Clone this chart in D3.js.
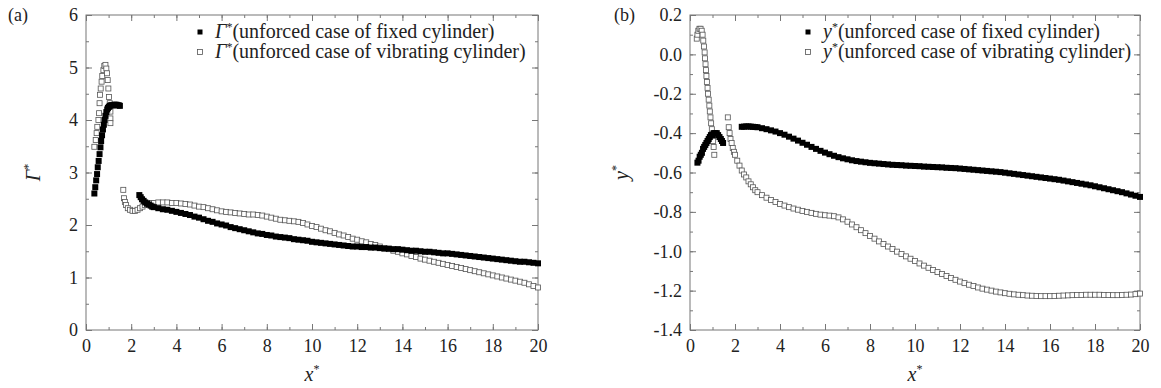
<!DOCTYPE html>
<html><head><meta charset="utf-8">
<script src="https://cdn.jsdelivr.net/npm/d3@7"></script>
<style>
body{margin:0;background:#fff;}
svg text{font-family:"Liberation Serif","DejaVu Serif","Times New Roman",Times,serif !important;fill:#222;}
</style></head>
<body><svg id="c" width="1161" height="388"></svg>
<script>
// ---------- data ----------
const farX = [3.0,3.2,3.4,3.6,3.8,4.0,4.2,4.4,4.6,4.8,5.0,5.2,5.4,5.6,5.8,6.0,6.2,6.4,6.6,6.8,7.0,7.2,7.4,7.6,7.8,8.0,8.2,8.4,8.6,8.8,9.0,9.2,9.4,9.6,9.8,10.0,10.2,10.4,10.6,10.8,11.0,11.2,11.4,11.6,11.8,12.0,12.2,12.4,12.6,12.8,13.0,13.2,13.4,13.6,13.8,14.0,14.2,14.4,14.6,14.8,15.0,15.2,15.4,15.6,15.8,16.0,16.2,16.4,16.6,16.8,17.0,17.2,17.4,17.6,17.8,18.0,18.2,18.4,18.6,18.8,19.0,19.2,19.4,19.6,19.8,20.0];

// (a) Gamma*, fixed cylinder
const aFixedNearX = [0.37,0.41,0.45,0.49,0.52,0.56,0.6,0.64,0.67,0.71,0.75,0.79,0.82,0.86,0.9,0.94,0.97,1.01,1.05,1.1,1.15,1.2,1.25,1.3,1.35,1.4,1.45,1.5];
const aFixedNearY = [2.6,2.72,2.85,2.97,3.1,3.22,3.35,3.48,3.6,3.71,3.82,3.91,4.0,4.08,4.15,4.2,4.23,4.25,4.27,4.28,4.28,4.28,4.29,4.29,4.29,4.28,4.28,4.27];
const aFixedMidX = [2.36,2.42,2.48,2.55,2.62,2.7,2.78,2.86,2.93];
const aFixedMidY = [2.57,2.53,2.49,2.46,2.43,2.41,2.39,2.37,2.35];
const aFixedFarY = [2.34,2.32,2.30,2.29,2.27,2.25,2.23,2.21,2.19,2.16,2.14,2.11,2.08,2.06,2.03,2.01,1.99,1.96,1.94,1.92,1.90,1.88,1.86,1.84,1.83,1.81,1.80,1.78,1.77,1.76,1.75,1.73,1.72,1.71,1.70,1.68,1.67,1.66,1.65,1.64,1.63,1.62,1.61,1.60,1.59,1.59,1.58,1.58,1.57,1.57,1.56,1.55,1.55,1.54,1.54,1.53,1.52,1.51,1.51,1.50,1.49,1.49,1.48,1.47,1.46,1.46,1.45,1.44,1.43,1.42,1.41,1.40,1.39,1.38,1.37,1.36,1.35,1.34,1.33,1.32,1.31,1.30,1.30,1.29,1.28,1.27];

// (a) Gamma*, vibrating cylinder
const aVibNearX = [0.37,0.43,0.47,0.5,0.55,0.58,0.6,0.62,0.65,0.69,0.72,0.77,0.81,0.86,0.9,0.93,0.96,0.99,1.02,1.05,1.08,1.08,1.08];
const aVibNearY = [3.49,3.62,3.75,3.87,4.0,4.13,4.32,4.48,4.6,4.73,4.84,4.95,5.03,5.05,4.98,4.89,4.76,4.6,4.44,4.32,4.16,4.03,3.94];
const aVibMidX = [1.65,1.68,1.72,1.77,1.85,1.95,2.06,2.17,2.28,2.39,2.5,2.6,2.7,2.8,2.9];
const aVibMidY = [2.67,2.51,2.44,2.38,2.32,2.29,2.27,2.27,2.29,2.32,2.35,2.38,2.4,2.41,2.42];
const aVibFarY = [2.42,2.43,2.43,2.43,2.42,2.42,2.41,2.40,2.39,2.37,2.35,2.34,2.32,2.30,2.28,2.26,2.25,2.24,2.23,2.22,2.21,2.20,2.20,2.19,2.18,2.16,2.14,2.12,2.10,2.09,2.08,2.07,2.06,2.04,2.01,1.98,1.96,1.93,1.90,1.88,1.85,1.82,1.80,1.77,1.74,1.72,1.69,1.67,1.64,1.62,1.59,1.56,1.54,1.51,1.49,1.46,1.44,1.41,1.39,1.36,1.34,1.32,1.30,1.28,1.26,1.24,1.22,1.20,1.18,1.16,1.14,1.12,1.10,1.08,1.06,1.04,1.02,1.00,0.98,0.96,0.94,0.92,0.90,0.87,0.84,0.81];

// (b) y*, fixed cylinder
const bFixedNearX = [0.33,0.38,0.43,0.48,0.53,0.58,0.63,0.68,0.73,0.78,0.83,0.88,0.93,0.98,1.05,1.12,1.19,1.25,1.31,1.37,1.42,1.47];
const bFixedNearY = [-0.55,-0.54,-0.52,-0.51,-0.50,-0.48,-0.47,-0.46,-0.45,-0.44,-0.43,-0.42,-0.41,-0.41,-0.40,-0.40,-0.40,-0.41,-0.42,-0.43,-0.44,-0.45];
const bFixedMidX = [2.3,2.4,2.5,2.6,2.7,2.8,2.9];
const bFixedMidY = [-0.368,-0.367,-0.366,-0.366,-0.367,-0.368,-0.369];
const bFixedFarY = [-0.370,-0.375,-0.380,-0.386,-0.392,-0.400,-0.408,-0.418,-0.428,-0.438,-0.449,-0.459,-0.470,-0.480,-0.490,-0.499,-0.507,-0.515,-0.522,-0.528,-0.533,-0.538,-0.542,-0.545,-0.548,-0.551,-0.553,-0.555,-0.557,-0.559,-0.561,-0.562,-0.563,-0.565,-0.566,-0.567,-0.568,-0.570,-0.571,-0.572,-0.573,-0.574,-0.576,-0.577,-0.578,-0.580,-0.582,-0.584,-0.586,-0.588,-0.590,-0.592,-0.594,-0.596,-0.598,-0.601,-0.604,-0.607,-0.610,-0.613,-0.616,-0.619,-0.622,-0.625,-0.628,-0.631,-0.634,-0.637,-0.641,-0.645,-0.649,-0.653,-0.657,-0.661,-0.665,-0.670,-0.675,-0.680,-0.685,-0.690,-0.695,-0.700,-0.706,-0.712,-0.718,-0.724];

// (b) y*, vibrating cylinder
const bVibNearX = [0.30,0.33,0.37,0.42,0.47,0.52,0.56,0.59,0.62,0.65,0.67,0.69,0.71,0.73,0.75,0.78,0.80,0.83,0.86,0.88,0.91,0.94,0.97,1.00,1.03,1.05,1.08];
const bVibNearY = [0.08,0.10,0.12,0.13,0.13,0.12,0.10,0.07,0.04,0.01,-0.02,-0.05,-0.08,-0.11,-0.14,-0.17,-0.20,-0.23,-0.26,-0.29,-0.32,-0.35,-0.38,-0.41,-0.44,-0.47,-0.51];
const bVibMidX = [1.68,1.72,1.76,1.80,1.85,1.90,1.95,2.0,2.1,2.2,2.3,2.4,2.5,2.6,2.7,2.8,2.9];
const bVibMidY = [-0.32,-0.37,-0.40,-0.43,-0.45,-0.475,-0.495,-0.51,-0.54,-0.565,-0.59,-0.61,-0.625,-0.645,-0.66,-0.675,-0.69];
const bVibFarY = [-0.700,-0.715,-0.728,-0.740,-0.750,-0.760,-0.768,-0.776,-0.783,-0.789,-0.795,-0.800,-0.805,-0.810,-0.814,-0.817,-0.819,-0.822,-0.828,-0.838,-0.850,-0.864,-0.878,-0.893,-0.908,-0.922,-0.936,-0.950,-0.963,-0.976,-0.989,-1.002,-1.014,-1.026,-1.038,-1.050,-1.062,-1.073,-1.084,-1.095,-1.106,-1.116,-1.126,-1.136,-1.145,-1.154,-1.162,-1.170,-1.177,-1.184,-1.190,-1.195,-1.200,-1.205,-1.209,-1.213,-1.216,-1.219,-1.221,-1.223,-1.225,-1.226,-1.227,-1.228,-1.228,-1.228,-1.227,-1.226,-1.225,-1.224,-1.223,-1.222,-1.222,-1.221,-1.221,-1.221,-1.221,-1.222,-1.222,-1.223,-1.223,-1.222,-1.221,-1.220,-1.218,-1.215];

const xTicks = [0,2,4,6,8,10,12,14,16,18,20];
const aYTicks = [0,1,2,3,4,5,6];
const bYTicks = [0.2,0.0,-0.2,-0.4,-0.6,-0.8,-1.0,-1.2,-1.4];
const aLegend = ["(unforced case of fixed cylinder)","(unforced case of vibrating cylinder)"];
const bLegend = ["(unforced case of fixed cylinder)","(unforced case of vibrating cylinder)"];

// ---------- drawing ----------
const FONT = "'Liberation Serif','DejaVu Serif','Times New Roman',serif";
const svg = d3.select("#c");
const zip = (xs, ys) => xs.map((x,i)=>[x,ys[i]]);

function panel(o){
  const g = svg.append("g").attr("font-family",FONT);
  const x = d3.scaleLinear().domain([0,20]).range([o.x0,o.x1]);
  const y = d3.scaleLinear().domain(o.ydom).range([o.y1,o.y0]);
  const axisColor = "#777";
  function styleAxis(sel){
    sel.attr("font-family",FONT);
    sel.select(".domain").remove();
    sel.selectAll(".tick line").attr("stroke",axisColor);
    sel.selectAll("text").attr("font-size",18).attr("fill","#222").style("font-family",FONT);
  }
  const minorX = d3.range(0,21,1), minorY = o.minor;
  g.append("g").attr("transform",`translate(0,${o.y1})`).call(d3.axisBottom(x).tickValues(minorX).tickSize(-3).tickFormat("")).call(styleAxis);
  g.append("g").attr("transform",`translate(0,${o.y0})`).call(d3.axisTop(x).tickValues(minorX).tickSize(-3).tickFormat("")).call(styleAxis);
  g.append("g").attr("transform",`translate(${o.x0},0)`).call(d3.axisLeft(y).tickValues(minorY).tickSize(-3).tickFormat("")).call(styleAxis);
  g.append("g").attr("transform",`translate(${o.x1},0)`).call(d3.axisRight(y).tickValues(minorY).tickSize(-3).tickFormat("")).call(styleAxis);
  g.append("g").attr("transform",`translate(0,${o.y1})`).call(d3.axisBottom(x).tickValues(xTicks).tickSize(-6).tickPadding(9).tickFormat(d3.format("d"))).call(styleAxis);
  g.append("g").attr("transform",`translate(0,${o.y0})`).call(d3.axisTop(x).tickValues(xTicks).tickSize(-6).tickFormat("")).call(styleAxis);
  g.append("g").attr("transform",`translate(${o.x0},0)`).call(d3.axisLeft(y).tickValues(o.yTicks).tickSize(-6).tickPadding(8).tickFormat(o.fmt)).call(styleAxis);
  g.append("g").attr("transform",`translate(${o.x1},0)`).call(d3.axisRight(y).tickValues(o.yTicks).tickSize(-6).tickFormat("")).call(styleAxis);
  g.append("rect").attr("x",o.x0).attr("y",o.y0).attr("width",o.x1-o.x0).attr("height",o.y1-o.y0)
    .attr("fill","none").attr("stroke",axisColor).attr("stroke-width",1);

  const s = 5, sf = 6;
  g.append("g").selectAll("rect").data(o.vib).join("rect")
    .attr("x",d=>x(d[0])-s/2).attr("y",d=>y(d[1])-s/2).attr("width",s).attr("height",s)
    .attr("fill","#fff").attr("stroke","#555").attr("stroke-width",0.8);
  g.append("g").selectAll("rect").data(o.fixed).join("rect")
    .attr("x",d=>x(d[0])-sf/2).attr("y",d=>y(d[1])-sf/2).attr("width",sf).attr("height",sf)
    .attr("fill","#000");

  const lx = o.legX;
  [0,1].forEach(i=>{
    const cy = 32 + i*20;
    if(i===0) g.append("rect").attr("x",lx-2.5).attr("y",cy-2.5).attr("width",5).attr("height",5).attr("fill","#000");
    else g.append("rect").attr("x",lx-2.5).attr("y",cy-2.5).attr("width",5).attr("height",5).attr("fill","#fff").attr("stroke","#555").attr("stroke-width",0.8);
    const t = g.append("text").attr("x",lx+15).attr("y",cy+6).attr("font-size",20);
    t.append("tspan").attr("font-style","italic").text(o.sym);
    t.append("tspan").attr("font-size",12).attr("dy",-7).text("*");
    t.append("tspan").attr("dy",7).text(o.legend[i]);
  });

  g.append("text").attr("x",o.tagX).attr("y",21).attr("font-size",18).text(o.tag);
  const xl = g.append("text").attr("x",(o.x0+o.x1)/2).attr("y",381).attr("text-anchor","middle").attr("font-size",20);
  xl.append("tspan").attr("font-style","italic").text("x");
  xl.append("tspan").attr("font-size",12).attr("dy",-8).text("*");
  const yl = g.append("text").attr("transform",`translate(${o.ylX},${(o.y0+o.y1)/2}) rotate(-90)`).attr("text-anchor","middle").attr("font-size",20);
  yl.append("tspan").attr("font-style","italic").text(o.sym);
  yl.append("tspan").attr("font-size",12).attr("dy",-8).text("*");
}

const hyphenFmt = d => d3.format(".1f")(d).replace("\u2212","-");

panel({x0:86,x1:538,y0:15,y1:330,ydom:[0,6],yTicks:aYTicks,minor:d3.range(0,6.01,0.5),fmt:d3.format("d"),
  fixed:[...zip(aFixedNearX,aFixedNearY),...zip(aFixedMidX,aFixedMidY),...zip(farX,aFixedFarY)],
  vib:[...zip(aVibNearX,aVibNearY),...zip(aVibMidX,aVibMidY),...zip(farX,aVibFarY)],
  sym:"Γ",legend:aLegend,legX:200,tag:"(a)",tagX:8,ylX:40});

panel({x0:690,x1:1140,y0:15,y1:330,ydom:[-1.4,0.2],yTicks:bYTicks,minor:d3.range(-1.4,0.201,0.1),fmt:hyphenFmt,
  fixed:[...zip(bFixedNearX,bFixedNearY),...zip(bFixedMidX,bFixedMidY),...zip(farX,bFixedFarY)],
  vib:[...zip(bVibNearX,bVibNearY),...zip(bVibMidX,bVibMidY),...zip(farX,bVibFarY)],
  sym:"y",legend:bLegend,legX:808,tag:"(b)",tagX:614,ylX:628});
</script></body></html>
